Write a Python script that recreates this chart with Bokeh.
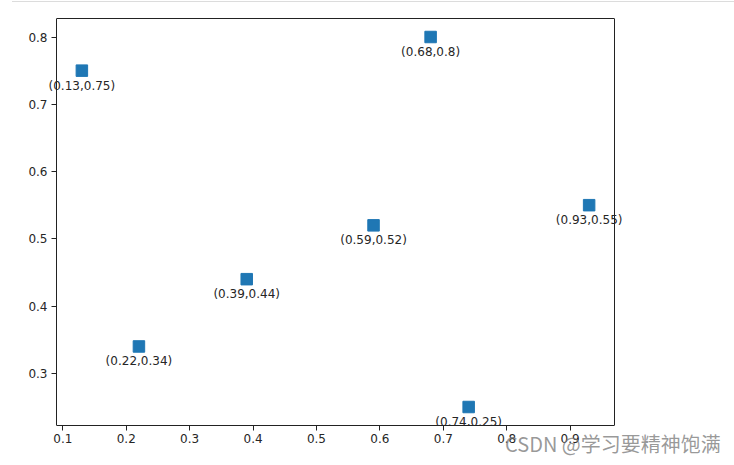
from bokeh.plotting import figure
from bokeh.models import (ColumnDataSource, Range1d, FixedTicker, LabelSet, Div, LinearAxis)
from bokeh.core.properties import value
from bokeh.embed import file_html
from bokeh.resources import INLINE

xs = [0.13, 0.22, 0.39, 0.59, 0.68, 0.74, 0.93]
ys = [0.75, 0.34, 0.44, 0.52, 0.80, 0.25, 0.55]
labels = ["(%s,%s)" % (format(x, "g"), format(y, "g")) for x, y in zip(xs, ys)]
x_ticks = [0.1, 0.2, 0.3, 0.4, 0.5, 0.6, 0.7, 0.8, 0.9]
y_ticks = [0.3, 0.4, 0.5, 0.6, 0.7, 0.8]
watermark = "CSDN @学习要精神饱满"

# axes box limits with 5% margins around the data
mx = 0.05 * (max(xs) - min(xs))
my = 0.05 * (max(ys) - min(ys))
bx0, bx1 = min(xs) - mx, max(xs) + mx
by0, by1 = min(ys) - my, max(ys) + my

# box on screen: x 56..614, y 18..425 ; frame wider so labels are not clipped
W, H = 734, 465
box_l, box_r, box_t, box_b = 56, 614, 18, 425
fr_l, fr_r = 27, 644
ppx = (box_r - box_l) / (bx1 - bx0)
x_range = Range1d(bx0 - (box_l - fr_l) / ppx, bx1 + (fr_r - box_r) / ppx)
y_range = Range1d(by0, by1)

src = ColumnDataSource(dict(x=xs, y=ys, label=labels))

p = figure(width=W, height=H, output_backend="svg", toolbar_location=None,
           x_range=x_range, y_range=y_range, x_axis_location=None, y_axis_location=None,
           min_border_left=fr_l, min_border_right=W - fr_r, min_border_top=box_t,
           min_border_bottom=H - box_b)
p.background_fill_color = "white"
p.border_fill_color = "white"
p.outline_line_color = None
p.xgrid.visible = False
p.ygrid.visible = False


def style(ax, ticks, show_labels):
    ax.axis_line_color = "#222222"
    ax.axis_line_width = 1
    ax.major_tick_line_color = "#222222"
    ax.major_tick_out = 5 if show_labels else 0
    ax.major_tick_in = 0
    ax.minor_tick_line_color = None
    ax.ticker = FixedTicker(ticks=ticks if show_labels else [])
    ax.major_label_text_font = "DejaVu Sans"
    ax.major_label_text_font_size = "12px"
    ax.major_label_text_color = "#262626"


xb = LinearAxis(bounds=(bx0, bx1))
style(xb, x_ticks, True)
xb.major_label_standoff = 3
p.add_layout(xb, "below")

yl = LinearAxis(fixed_location=bx0, bounds=(by0, by1))
style(yl, y_ticks, True)
yl.major_label_standoff = 4
p.add_layout(yl, "left")

xt = LinearAxis(bounds=(bx0, bx1))
style(xt, [], False)
xt.major_label_standoff = 0
p.add_layout(xt, "above")

yr = LinearAxis(fixed_location=bx1, bounds=(by0, by1))
style(yr, [], False)
yr.major_label_standoff = 0
p.add_layout(yr, "right")

p.scatter("x", "y", source=src, marker="square", size=11.5, fill_color="#1f77b4",
          line_color="#1f77b4")
p.add_layout(LabelSet(x="x", y="y", text="label", source=src, text_align="center",
                      text_baseline="top", y_offset=-8, text_font=value("DejaVu Sans"),
                      text_font_size="12px", text_color="#262626"))

wm = Div(text=watermark, styles={"position": "absolute", "left": "505px", "top": "430px",
                                 "font-size": "20px", "color": "rgba(120,120,120,0.75)",
                                 "font-family": "Noto Sans CJK SC", "white-space": "nowrap"})
p.elements.append(wm)
frame_line = Div(text="", styles={"position": "absolute", "left": "12px", "top": "1px",
                                  "width": "722px", "height": "0px",
                                  "border-top": "1px solid #dcdcdc"})
p.elements.append(frame_line)

open("out.html", "w").write(file_html(p, INLINE))
